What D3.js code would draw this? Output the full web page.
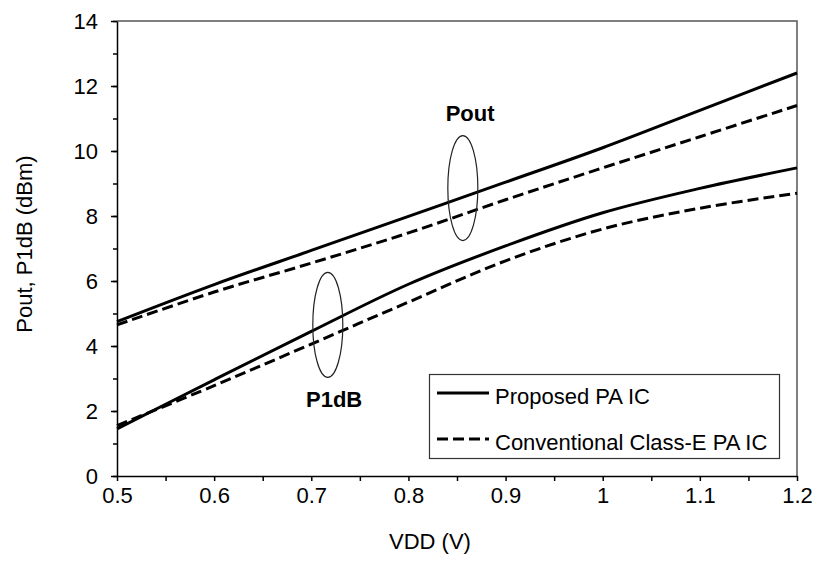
<!DOCTYPE html>
<html>
<head>
<meta charset="utf-8">
<script src="https://cdn.jsdelivr.net/npm/d3@7"></script>
<style>
  body { margin: 0; background: #fff; }
  svg text { font-family: "Liberation Sans", Arial, sans-serif; fill: #000; }
</style>
</head>
<body>
<svg id="chart" width="813" height="561"></svg>
<script>
// data
const vdd = [0.5, 0.6, 0.7, 0.8, 0.9, 1.0, 1.1, 1.2];
const poutProposed = [4.75, 5.89, 6.94, 7.99, 9.04, 10.1, 11.25, 12.4];
const poutConventional = [4.65, 5.66, 6.55, 7.48, 8.5, 9.48, 10.44, 11.4];
const p1dbProposed = [1.45, 2.96, 4.45, 5.9, 7.08, 8.1, 8.85, 9.48];
const p1dbConventional = [1.55, 2.78, 4.06, 5.35, 6.62, 7.6, 8.24, 8.7];

const xTicks = [0.5, 0.6, 0.7, 0.8, 0.9, 1, 1.1, 1.2];
const xMinor = d3.range(0.5, 1.2001, 0.05);
const yTicks = [0, 2, 4, 6, 8, 10, 12, 14];
const yMinor = d3.range(0, 14.001, 1);

const legendLabels = ["Proposed PA IC", "Conventional Class-E PA IC"];
// annotation groups: [label, ellipse centre vdd, centre value, label vdd, label value]
const groups = [
    ["Pout", 0.856, 8.86, 0.8635, 10.92],
    ["P1dB", 0.717, 4.65, 0.7235, 2.13]
];

const svg = d3.select("#chart");
const width = 813;
const height = 561;
const margin = { top: 21, right: 16, bottom: 85, left: 117 };

const x = d3.scaleLinear().domain([0.5, 1.2]).range([margin.left, width - margin.right]);
const y = d3.scaleLinear().domain([0, 14]).range([height - margin.bottom, margin.top]);

// top and right frame
svg.append("path")
    .attr("d", `M${x(0.5)},${y(14)}H${x(1.2)}V${y(0)}`)
    .attr("fill", "none")
    .attr("stroke", "#555")
    .attr("stroke-width", 1.5);

// minor ticks
svg.append("g")
    .attr("transform", `translate(${margin.left},0)`)
    .call(d3.axisLeft(y).tickValues(yMinor).tickSize(4).tickFormat(""))
    .call(g => g.select(".domain").remove())
    .call(g => g.selectAll("line").attr("stroke-width", 1.5));

const yAxis = svg.append("g")
    .attr("transform", `translate(${margin.left},0)`)
    .call(d3.axisLeft(y).tickValues(yTicks).tickSize(6).tickSizeOuter(0).tickPadding(13));
yAxis.select(".domain").attr("stroke-width", 1.5);
yAxis.selectAll("line").attr("stroke-width", 1.5);
yAxis.selectAll("text").attr("font-size", 22).attr("dy", "0.36em");

const xAxis = svg.append("g")
    .attr("transform", `translate(0,${y(0)})`)
    .call(d3.axisBottom(x).tickValues(xMinor).tickSize(5).tickSizeOuter(0)
        .tickFormat(d => {
            const r = Math.round(d * 100) / 100;
            return xTicks.some(t => Math.abs(t - r) < 1e-6) ? d3.format("")(Math.round(d * 10) / 10) : "";
        }));
xAxis.select(".domain").attr("stroke-width", 1.5);
xAxis.selectAll("line").attr("stroke-width", 1.5);
xAxis.selectAll("text").attr("font-size", 22).attr("y", 11).attr("dy", "0.71em");

// axis titles
svg.append("text")
    .attr("x", 430)
    .attr("y", 549)
    .attr("text-anchor", "middle")
    .attr("font-size", 22)
    .text("VDD (V)");

svg.append("text")
    .attr("transform", "translate(32,244) rotate(-90)")
    .attr("text-anchor", "middle")
    .attr("font-size", 22)
    .text("Pout, P1dB (dBm)");

// lines
const line = d3.line()
    .x((d, i) => x(vdd[i]))
    .y(d => y(d))
    .curve(d3.curveCatmullRom.alpha(0.5));

const series = [
    [poutProposed, null],
    [poutConventional, "11,5"],
    [p1dbProposed, null],
    [p1dbConventional, "11,5"]
];

svg.append("g")
    .selectAll("path")
    .data(series)
    .join("path")
    .attr("d", d => line(d[0]))
    .attr("fill", "none")
    .attr("stroke", "#000")
    .attr("stroke-width", 3)
    .attr("stroke-dasharray", d => d[1]);

// ellipses and group labels
const ann = svg.append("g");
ann.selectAll("ellipse")
    .data(groups)
    .join("ellipse")
    .attr("cx", d => x(d[1]))
    .attr("cy", d => y(d[2]))
    .attr("rx", 15)
    .attr("ry", 52.5)
    .attr("fill", "none")
    .attr("stroke", "#222")
    .attr("stroke-width", 1.2);

ann.selectAll("text")
    .data(groups)
    .join("text")
    .attr("x", d => x(d[3]))
    .attr("y", d => y(d[4]))
    .attr("text-anchor", "middle")
    .attr("font-size", 22)
    .attr("font-weight", "bold")
    .text(d => d[0]);

// legend
const legend = svg.append("g");
legend.append("rect")
    .attr("x", 429.5)
    .attr("y", 374.5)
    .attr("width", 350)
    .attr("height", 84)
    .attr("fill", "#fff")
    .attr("stroke", "#333")
    .attr("stroke-width", 1.2);

const legendItems = legend.selectAll("g.item")
    .data(legendLabels)
    .join("g")
    .attr("class", "item")
    .attr("transform", (d, i) => `translate(437,${393 + i * 46})`);

legendItems.append("line")
    .attr("x1", 0)
    .attr("x2", 52)
    .attr("stroke", "#000")
    .attr("stroke-width", 3)
    .attr("stroke-dasharray", (d, i) => i ? "11,5" : null);

legendItems.append("text")
    .attr("x", 58)
    .attr("y", 11)
    .attr("font-size", 22)
    .text(d => d);
</script>
</body>
</html>
